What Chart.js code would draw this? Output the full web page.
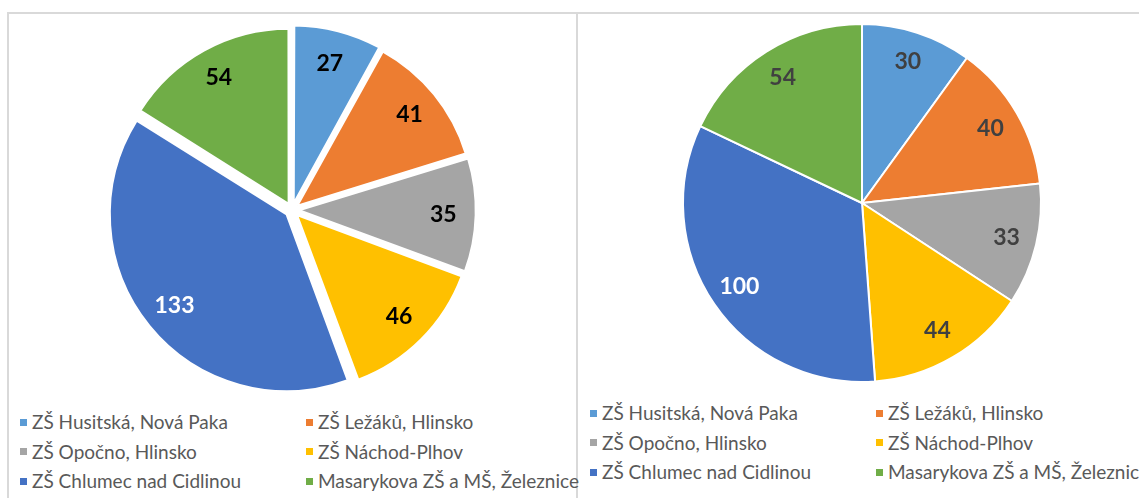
<!DOCTYPE html>
<html>
<head>
<meta charset="utf-8">
<script src="https://cdn.jsdelivr.net/npm/chart.js@4.4.1/dist/chart.umd.min.js"></script>
<style>
    html, body { margin: 0; padding: 0; background: #fff; }
    body { width: 1139px; height: 498px; position: relative; overflow: hidden; font-family: Lato, "Open Sans", sans-serif; }
    .line { position: absolute; background: #d9d9d9; }
    .pie { position: absolute; width: 390px; height: 390px; }
    .legend { position: absolute; }
    .item { position: absolute; white-space: nowrap; font-size: 19px; color: #595959; line-height: 20px; }
    .item span.box { display: inline-block; width: 7px; height: 7px; margin-right: 5px; vertical-align: middle; position: relative; top: -2px; }
</style>
</head>
<body>
<div class="line" style="left:7px; top:12px; width:1132px; height:2px;"></div>
<div class="line" style="left:7px; top:12px; width:2px; height:486px;"></div>
<div class="line" style="left:576px; top:12px; width:2px; height:486px;"></div>

<div class="pie" style="left:97px; top:15px;"><canvas id="leftPie"></canvas></div>
<div class="pie" style="left:667px; top:8px;"><canvas id="rightPie"></canvas></div>

<div class="legend" id="leftLegend" style="left:20px; top:412px;"></div>
<div class="legend" id="rightLegend" style="left:590px; top:403px;"></div>

<script>
const schools = [
    "ZŠ Husitská, Nová Paka",
    "ZŠ Ležáků, Hlinsko",
    "ZŠ Opočno, Hlinsko",
    "ZŠ Náchod-Plhov",
    "ZŠ Chlumec nad Cidlinou",
    "Masarykova ZŠ a MŠ, Železnice",
];
const leftValues = [27, 41, 35, 46, 133, 54];
const rightValues = [30, 40, 33, 44, 100, 54];
const sliceColors = ["#5B9BD5", "#ED7D31", "#A5A5A5", "#FFC000", "#4472C4", "#70AD47"];

// value labels inside slices, like excel's best fit
const sliceLabels = {
    id: "sliceLabels",
    afterDatasetsDraw(chart, args, opts) {
        const ctx = chart.ctx;
        const meta = chart.getDatasetMeta(0);
        const data = chart.data.datasets[0].data;
        ctx.save();
        ctx.font = "bold 23px Lato, 'Open Sans', sans-serif";
        ctx.textAlign = "center";
        ctx.textBaseline = "middle";
        meta.data.forEach((arc, i) => {
            const mid = (arc.startAngle + arc.endAngle) / 2;
            // chart.js moves an exploded arc by offset / 4
            const dist = arc.outerRadius * opts.ratio + (arc.options.offset || 0) / 4;
            ctx.fillStyle = opts.colors[i] || opts.color;
            ctx.fillText(String(data[i]), arc.x + Math.cos(mid) * dist, arc.y + Math.sin(mid) * dist);
        });
        ctx.restore();
    },
};

function makePie(canvasId, values, radius, offset, labelColor) {
    const colors = {};
    colors[4] = "#ffffff";
    return new Chart(document.getElementById(canvasId), {
        type: "pie",
        data: {
            labels: schools,
            datasets: [
                {
                    data: values,
                    backgroundColor: sliceColors,
                    borderColor: "#ffffff",
                    borderWidth: 2,
                    hoverBorderWidth: 2,
                    offset: offset,
                    hoverOffset: offset,
                },
            ],
        },
        options: {
            responsive: true,
            maintainAspectRatio: false,
            animation: false,
            events: [],
            radius: radius,
            layout: { padding: 0 },
            plugins: {
                legend: { display: false },
                tooltip: { enabled: false },
                sliceLabels: { ratio: 0.83, color: labelColor, colors: colors },
            },
        },
        plugins: [sliceLabels],
    });
}

function makeLegend(elId) {
    const el = document.getElementById(elId);
    schools.forEach((name, i) => {
        const item = document.createElement("div");
        item.className = "item";
        item.style.left = (i % 2) * 286 + "px";
        item.style.top = Math.floor(i / 2) * 29.5 + "px";
        const box = document.createElement("span");
        box.className = "box";
        box.style.background = sliceColors[i];
        item.appendChild(box);
        item.appendChild(document.createTextNode(name));
        el.appendChild(item);
    });
}

makePie("leftPie", leftValues, 174, 28, "#000000");
makePie("rightPie", rightValues, 179, 0, "#404040");
makeLegend("leftLegend");
makeLegend("rightLegend");
</script>
</body>
</html>
